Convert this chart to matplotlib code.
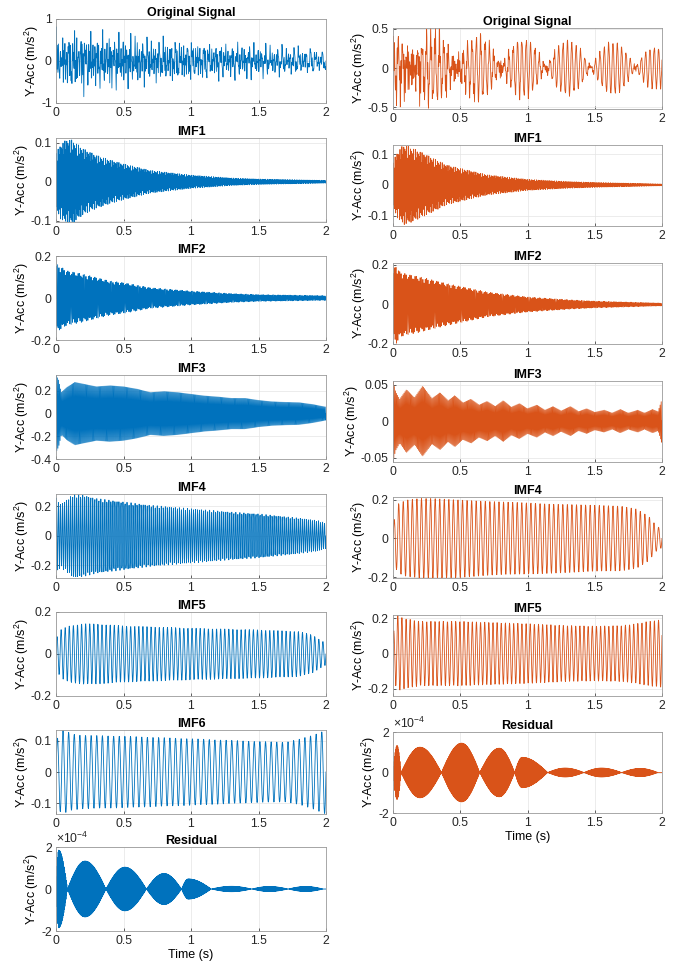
import numpy as np
import matplotlib
matplotlib.use('Agg')
import matplotlib.pyplot as plt

plt.rcParams['font.family'] = ['Liberation Sans', 'DejaVu Sans']
plt.rcParams['mathtext.default'] = 'regular'
plt.rcParams['axes.unicode_minus'] = False

BLUE = '#0072BD'
ORANGE = '#D95319'

# sampling of the time axis (s)
fs = 500
t = np.arange(0, 2 + 0.5 / fs, 1 / fs)

# ---- left column (blue): envelope knots (s), amplitudes (m/s^2), carrier (Hz)
imf1_l_t = [0, 0.03, 0.08, 0.12, 0.2, 0.3, 0.4, 0.5, 0.7, 1.0, 1.3, 1.5, 2.0]
imf1_l_a = [0.072, 0.094, 0.109, 0.107, 0.085, 0.068, 0.056, 0.046, 0.029, 0.017, 0.0096, 0.007, 0.0035]
imf1_l_f = 140

imf2_l_t = [0, 0.01, 0.08, 0.2, 0.4, 0.5, 0.7, 1.0, 1.3, 1.5, 2.0]
imf2_l_a = [0.154, 0.16, 0.13, 0.114, 0.081, 0.073, 0.049, 0.033, 0.021, 0.016, 0.011]
imf2_l_f = 105

imf3_l_t = [0, 0.02, 0.04, 0.08, 0.14, 0.2, 0.3, 0.4, 0.5, 0.6, 0.7, 0.8, 0.9, 1.0,
            1.1, 1.2, 1.3, 1.4, 1.5, 1.6, 1.7, 1.8, 1.9, 2.0]
imf3_l_a = [0.34, 0.29, 0.185, 0.23, 0.275, 0.26, 0.236, 0.245, 0.236, 0.215, 0.185, 0.194,
            0.185, 0.17, 0.155, 0.146, 0.134, 0.134, 0.116, 0.104, 0.099, 0.096, 0.08, 0.057]
imf3_l_f = 125

imf4_l_t = [0, 0.03, 0.07, 0.13, 0.2, 0.3, 0.5, 0.7, 1.0, 1.3, 1.5, 1.8, 1.94, 2.0]
imf4_l_a = [0.264, 0.214, 0.237, 0.283, 0.276, 0.253, 0.23, 0.207, 0.184, 0.161, 0.149, 0.12, 0.103, 0.085]
imf4_l_f = 67

imf5_l_t = [0, 0.04, 0.1, 0.2, 0.3, 0.5, 1.0, 1.5, 1.8, 1.9, 1.96, 2.0]
imf5_l_a = [0.074, 0.118, 0.134, 0.144, 0.143, 0.134, 0.123, 0.115, 0.107, 0.09, 0.066, 0.052]
imf5_l_f = 33

imf6_l_t = [0, 0.04, 0.08, 0.12, 0.2, 0.5, 1.0, 1.5, 1.7, 1.8, 1.9, 2.0]
imf6_l_a = [0.10, 0.135, 0.13, 0.122, 0.118, 0.115, 0.107, 0.098, 0.096, 0.105, 0.118, 0.135]
imf6_l_f = 24

# residual: lobes (start, peak time, end, peak amplitude), drawn as a solid band
res_l_start = [0.0, 0.085, 0.37, 0.67, 0.93, 1.15, 1.45, 1.72]
res_l_tpk = [0.02, 0.215, 0.51, 0.8, 0.98, 1.3, 1.58, 1.85]
res_l_end = [0.085, 0.37, 0.67, 0.93, 1.15, 1.45, 1.72, 1.98]
res_l_peak = [1.85e-4, 1.33e-4, 1.04e-4, 0.74e-4, 0.48e-4, 0.13e-4, 0.12e-4, 0.12e-4]

# ---- right column (orange)
imf1_r_t = [0, 0.025, 0.075, 0.11, 0.2, 0.3, 0.4, 0.5, 0.7, 1.0, 1.3, 1.5, 2.0]
imf1_r_a = [0.07, 0.103, 0.13, 0.127, 0.109, 0.087, 0.065, 0.054, 0.033, 0.018, 0.011, 0.008, 0.003]
imf1_r_f = 140

imf2_r_t = [0, 0.02, 0.05, 0.1, 0.2, 0.4, 0.5, 0.7, 1.0, 1.3, 1.5, 2.0]
imf2_r_a = [0.157, 0.205, 0.166, 0.154, 0.14, 0.106, 0.092, 0.063, 0.038, 0.024, 0.017, 0.007]
imf2_r_f = 105

imf3_r_t = [0, 0.02, 0.05, 0.1, 0.16, 0.22, 0.29, 0.35, 0.41, 0.46, 0.52, 0.58, 0.64, 0.70,
            0.76, 0.82, 0.88, 0.94, 1.00, 1.07, 1.13, 1.19, 1.25, 1.32, 1.38, 1.44, 1.50,
            1.57, 1.63, 1.69, 1.75, 1.82, 1.87, 1.93, 1.97, 2.0]
imf3_r_a = [0.055, 0.04, 0.03, 0.043, 0.032, 0.048, 0.031, 0.039, 0.028, 0.035, 0.025, 0.030,
            0.022, 0.027, 0.020, 0.028, 0.019, 0.024, 0.017, 0.022, 0.015, 0.020, 0.014, 0.020,
            0.013, 0.017, 0.012, 0.015, 0.011, 0.016, 0.011, 0.015, 0.011, 0.016, 0.013, 0.03]
imf3_r_f = 125

imf4_r_t = [0, 0.03, 0.1, 0.2, 0.3, 0.5, 0.7, 1.0, 1.3, 1.5, 1.7, 1.81, 1.9, 1.96, 2.0]
imf4_r_a = [0.064, 0.175, 0.197, 0.205, 0.205, 0.2, 0.19, 0.183, 0.175, 0.17, 0.166, 0.153, 0.115, 0.064, 0.047]
imf4_r_f = 29.5

imf5_r_t = [0, 0.03, 0.075, 0.2, 0.5, 1.0, 1.3, 1.5, 1.7, 1.81, 1.9, 2.0]
imf5_r_a = [0.11, 0.218, 0.2, 0.182, 0.182, 0.169, 0.158, 0.155, 0.158, 0.169, 0.182, 0.191]
imf5_r_f = 32.5
imf5_r_phase = 0.565  # puts the beat nodes near 0.47 s, 0.8 s, 1.13 s ...

res_r_start = [0.0, 0.06, 0.36, 0.645, 0.905, 1.15, 1.42, 1.7]
res_r_tpk = [0.03, 0.2, 0.51, 0.79, 0.96, 1.28, 1.55, 1.84]
res_r_end = [0.06, 0.36, 0.645, 0.905, 1.15, 1.42, 1.7, 1.97]
res_r_peak = [1.33e-4, 1.25e-4, 1.45e-4, 1.2e-4, 0.75e-4, 0.22e-4, 0.22e-4, 0.2e-4]


def imf(knots, amps, freq, phase=0.0):
    env = np.interp(t, knots, amps)
    return env * np.sin(2 * np.pi * freq * t + phase)


def residual(starts, tpks, ends, peaks):
    env = np.zeros_like(t)
    for s, p, e, a in zip(starts, tpks, ends, peaks):
        up = (t >= s) & (t <= p)
        dn = (t > p) & (t <= e)
        env[up] = a * np.sin(0.5 * np.pi * (t[up] - s) / (p - s))
        env[dn] = a * np.sin(0.5 * np.pi * (e - t[dn]) / (e - p))
    # sign flips every sample -> the band looks solid, as in the figure
    return env * np.cos(np.pi * fs * t)


left = [imf(imf1_l_t, imf1_l_a, imf1_l_f),
        imf(imf2_l_t, imf2_l_a, imf2_l_f),
        imf(imf3_l_t, imf3_l_a, imf3_l_f),
        imf(imf4_l_t, imf4_l_a, imf4_l_f),
        imf(imf5_l_t, imf5_l_a, imf5_l_f),
        imf(imf6_l_t, imf6_l_a, imf6_l_f),
        residual(res_l_start, res_l_tpk, res_l_end, res_l_peak)]
left = [np.sum(left, axis=0)] + left

right = [imf(imf1_r_t, imf1_r_a, imf1_r_f),
         imf(imf2_r_t, imf2_r_a, imf2_r_f),
         imf(imf3_r_t, imf3_r_a, imf3_r_f),
         imf(imf4_r_t, imf4_r_a, imf4_r_f),
         imf(imf5_r_t, imf5_r_a, imf5_r_f, imf5_r_phase),
         residual(res_r_start, res_r_tpk, res_r_end, res_r_peak)]
right = [np.sum(right, axis=0)] + right

left_titles = ['Original Signal', 'IMF1', 'IMF2', 'IMF3', 'IMF4', 'IMF5', 'IMF6', 'Residual']
right_titles = ['Original Signal', 'IMF1', 'IMF2', 'IMF3', 'IMF4', 'IMF5', 'Residual']

left_ylims = [(-1, 1), (-0.103, 0.112), (-0.2, 0.2), (-0.4, 0.34), (-0.285, 0.283),
              (-0.2, 0.2), (-0.135, 0.135), (-2e-4, 2e-4)]
left_yticks = [[-1, 0, 1], [-0.1, 0, 0.1], [-0.2, 0, 0.2], [-0.4, -0.2, 0, 0.2],
               [-0.2, 0, 0.2], [-0.2, 0, 0.2], [-0.1, 0, 0.1], [-2e-4, 0, 2e-4]]
right_ylims = [(-0.52, 0.51), (-0.134, 0.13), (-0.2, 0.21), (-0.056, 0.055),
               (-0.203, 0.213), (-0.24, 0.218), (-2e-4, 2e-4)]
right_yticks = [[-0.5, 0, 0.5], [-0.1, 0, 0.1], [-0.2, 0, 0.2], [-0.05, 0, 0.05],
                [-0.2, 0, 0.2], [-0.2, 0, 0.2], [-2e-4, 0, 2e-4]]


def draw(ax, sig, color, title, ylim, yticks, last):
    ax.plot(t, sig, color=color, linewidth=0.6)
    ax.set_xlim(0, 2)
    ax.set_ylim(*ylim)
    ax.set_xticks([0, 0.5, 1, 1.5, 2])
    ax.set_xticklabels(['0', '0.5', '1', '1.5', '2'])
    ax.set_yticks(yticks)
    ax.grid(True, color='#e4e4e4', linewidth=0.5)
    ax.set_axisbelow(True)
    ax.tick_params(direction='in', length=2.5, width=0.5, labelsize=8.8,
                   colors='#262626', pad=3)
    for sp in ax.spines.values():
        sp.set_color('#9a9a9a')
        sp.set_linewidth(0.6)
    ax.set_title(title, fontsize=9, fontweight='bold', pad=2.5)
    ax.set_ylabel('Y-Acc (m/s$^2$)', fontsize=9, labelpad=0)
    if last:
        # MATLAB-style exponent above the axis
        ax.set_yticklabels([('%g' % (v * 1e4)) for v in yticks])
        ax.text(0, 1.015, '\u00d710$^{-4}$', transform=ax.transAxes, fontsize=8.8,
                color='#262626', ha='left', va='bottom')
        ax.set_xlabel('Time (s)', fontsize=9, labelpad=1)
    else:
        ax.set_yticklabels([('%g' % v) for v in yticks])


W, H = 686.0, 972.0
fig = plt.figure(figsize=(W / 100, H / 100), dpi=100)

left_tops = [19, 138, 256, 375, 494, 612, 730, 847]
right_tops = [28, 145, 263, 381, 497, 615, 732]
for i in range(8):
    ax = fig.add_axes([56 / W, 1 - (left_tops[i] + 84) / H, 270 / W, 84 / H])
    draw(ax, left[i], BLUE, left_titles[i], left_ylims[i], left_yticks[i], i == 7)
for i in range(7):
    ax = fig.add_axes([393 / W, 1 - (right_tops[i] + 81) / H, 269 / W, 81 / H])
    draw(ax, right[i], ORANGE, right_titles[i], right_ylims[i], right_yticks[i], i == 6)

plt.savefig('out.png', dpi=100)
